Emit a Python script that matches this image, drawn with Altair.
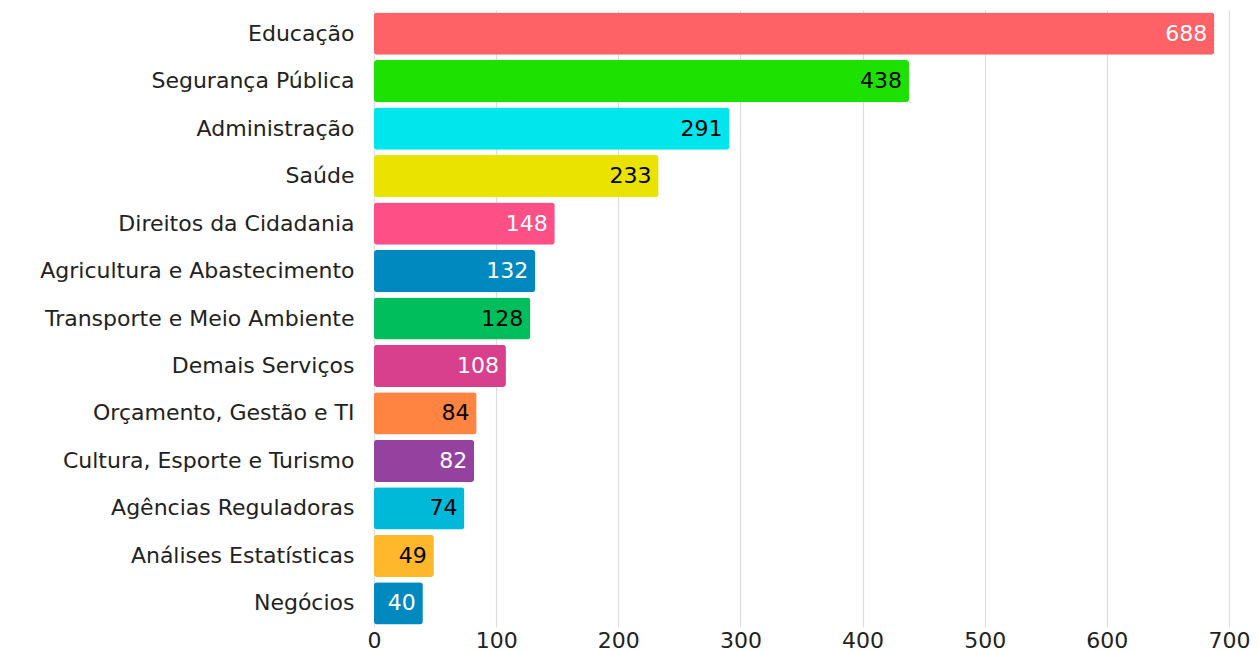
import altair as alt
import pandas as pd

categories = ["Educação", "Segurança Pública", "Administração", "Saúde",
              "Direitos da Cidadania", "Agricultura e Abastecimento",
              "Transporte e Meio Ambiente", "Demais Serviços",
              "Orçamento, Gestão e TI", "Cultura, Esporte e Turismo",
              "Agências Reguladoras", "Análises Estatísticas", "Negócios"]
values = [688, 438, 291, 233, 148, 132, 128, 108, 84, 82, 74, 49, 40]
bar_colors = ["#FF6266", "#1DE100", "#00E6EC", "#EAE300", "#FF4F87", "#0089BE",
              "#00BE5C", "#D8408E", "#FF8441", "#9441A0", "#00B9D8", "#FFB72B", "#0089BE"]
text_colors = ["white", "black", "black", "black", "white", "white", "black",
               "white", "black", "white", "black", "black", "white"]

df = pd.DataFrame({"cat": categories, "val": values,
                   "bc": bar_colors, "tc": text_colors})

FONT = "DejaVu Sans"
FS = 22

y = alt.Y("cat:N", sort=categories, title=None,
          scale=alt.Scale(paddingInner=0.11, paddingOuter=0.055),
          axis=alt.Axis(ticks=False, domain=False, labelPadding=20,
                        labelFontSize=FS, labelColor="#222222",
                        labelFont=FONT, labelLimit=400))
x = alt.X("val:Q", title=None,
          scale=alt.Scale(domain=[0, 700], nice=False),
          axis=alt.Axis(values=[0, 100, 200, 300, 400, 500, 600, 700],
                        ticks=False, domain=False, labelPadding=3,
                        labelFontSize=FS, labelColor="#222222",
                        labelFont=FONT, grid=True,
                        gridColor="#DDDDDD", gridWidth=1.2,
                        labelFlush=False))

bars = alt.Chart(df).mark_bar(cornerRadius=3).encode(
    y=y, x=x, color=alt.Color("bc:N", scale=None))

labels = alt.Chart(df).mark_text(align="right", dx=-7, fontSize=FS,
                                 font=FONT).encode(
    y=alt.Y("cat:N", sort=categories),
    x="val:Q", text="val:Q", color=alt.Color("tc:N", scale=None))

chart = (bars + labels).properties(
    width=855, height=617,
    autosize=alt.AutoSizeParams(type="none"),
    padding={"left": 366, "top": 2, "right": 22, "bottom": 30},
).configure_view(stroke=None)

chart.save("out.html", embed_options={"renderer": "svg", "actions": False})
